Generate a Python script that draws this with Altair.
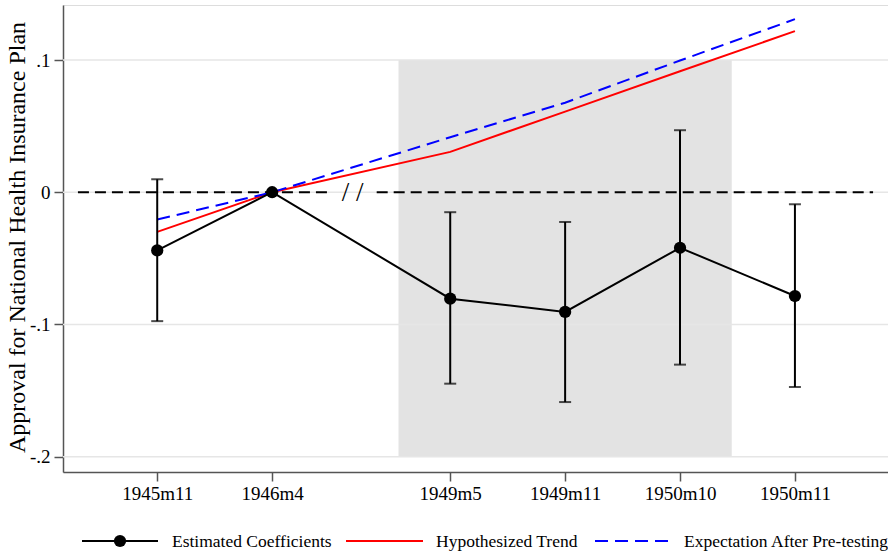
import altair as alt
import pandas as pd

# Survey waves and their positions on the horizontal axis (gap marks the break)
waves = ["1945m11", "1946m4", "1949m5", "1949m11", "1950m10", "1950m11"]
wave_pos = [1.0, 2.0, 3.55, 4.55, 5.55, 6.55]

# Event-study estimates with 95% confidence bounds
coef = [-0.044, 0.0, -0.0805, -0.0905, -0.042, -0.0785]
ci_hi = [0.0098, 0.0, -0.0151, -0.0225, 0.0469, -0.0091]
ci_lo = [-0.0975, 0.0, -0.1448, -0.1587, -0.1304, -0.1473]

# Counterfactual trends
trend = [-0.030, 0.0, 0.0305, 0.061, 0.0915, 0.1218]
expect = [-0.0207, 0.0, 0.0416, 0.0677, 0.0996, 0.1309]

# Y ticks
y_ticks = [0.1, 0.0, -0.1, -0.2]
y_tick_labels = [".1", "0", "-.1", "-.2"]

# Shaded period and zero-line segments around the axis break
shade = {"x0": [3.1], "x1": [6.0], "y0": [-0.2], "y1": [0.1]}
zero_segments = {"x0": [0.31, 2.91], "x1": [2.49, 7.23], "y": [0.0, 0.0]}
break_mark = {"x": [2.70], "y": [0.0], "t": ["/ /"]}

legend_labels = ["Estimated Coefficients", "Hypothesized Trend", "Expectation After Pre-testing"]

FONT = "Liberation Serif"
X_DOMAIN = [0.18, 7.36]
Y_DOMAIN = [-0.2116, 0.1416]

df = pd.DataFrame({
    "wave": waves, "pos": wave_pos, "coef": coef,
    "hi": ci_hi, "lo": ci_lo, "trend": trend, "expect": expect,
})
df_ci = df[df["hi"] != df["lo"]]


def label_expr(values, labels):
    parts = [f"abs(datum.value - ({v})) < 1e-6 ? '{l}'" for v, l in zip(values, labels)]
    return " : ".join(parts) + " : ''"


xs = alt.Scale(domain=X_DOMAIN, nice=False, zero=False)
ys = alt.Scale(domain=Y_DOMAIN, nice=False, zero=False)

x_axis = alt.Axis(
    values=wave_pos, labelExpr=label_expr(wave_pos, waves), title=None,
    grid=False, tickSize=9, labelPadding=3, labelFontSize=19, labelFont=FONT,
    labelColor="black", domainColor="#555555", tickColor="#555555",
    domainWidth=1.5, tickWidth=1.5, labelBaseline="top",
)
y_axis = alt.Axis(
    values=y_ticks, labelExpr=label_expr(y_ticks, y_tick_labels),
    title="Approval for National Health Insurance Plan",
    grid=False, tickSize=9, labelPadding=4, labelFontSize=19, labelFont=FONT,
    labelColor="black", domainColor="#555555", tickColor="#555555",
    domainWidth=1.5, tickWidth=1.5,
    titleFont=FONT, titleFontSize=24, titleFontWeight="normal", titleColor="black",
    titleX=-46, titleY=232, titleAngle=270, titleAlign="center", titleBaseline="middle",
)

base = alt.Chart(df)

shade_layer = alt.Chart(pd.DataFrame(shade)).mark_rect(color="#e3e3e3").encode(
    x=alt.X("x0:Q", scale=xs, axis=x_axis), x2="x1:Q",
    y=alt.Y("y0:Q", scale=ys, axis=y_axis), y2="y1:Q",
)

grid_layer = alt.Chart(pd.DataFrame({"y": y_ticks})).mark_rule(
    color="#e6e6e6", strokeWidth=1.5
).encode(y=alt.Y("y:Q", scale=ys))

zero_layer = alt.Chart(pd.DataFrame(zero_segments)).mark_rule(
    color="black", strokeWidth=2, strokeDash=[11, 6]
).encode(x=alt.X("x0:Q", scale=xs), x2="x1:Q", y=alt.Y("y:Q", scale=ys))

break_layer = alt.Chart(pd.DataFrame(break_mark)).mark_text(
    font=FONT, fontSize=27, color="black", baseline="middle", align="center", dy=1
).encode(x=alt.X("x:Q", scale=xs), y=alt.Y("y:Q", scale=ys), text="t:N")

trend_layer = base.mark_line(color="#ff0000", strokeWidth=2).encode(
    x=alt.X("pos:Q", scale=xs), y=alt.Y("trend:Q", scale=ys)
)
expect_layer = base.mark_line(color="#0000ff", strokeWidth=2, strokeDash=[13, 7]).encode(
    x=alt.X("pos:Q", scale=xs), y=alt.Y("expect:Q", scale=ys)
)

ci_layer = alt.Chart(df_ci).mark_rule(color="black", strokeWidth=2).encode(
    x=alt.X("pos:Q", scale=xs), y=alt.Y("lo:Q", scale=ys), y2="hi:Q"
)
cap_hi = alt.Chart(df_ci).mark_tick(color="black", orient="horizontal", size=12, thickness=2).encode(
    x=alt.X("pos:Q", scale=xs), y=alt.Y("hi:Q", scale=ys)
)
cap_lo = alt.Chart(df_ci).mark_tick(color="black", orient="horizontal", size=12, thickness=2).encode(
    x=alt.X("pos:Q", scale=xs), y=alt.Y("lo:Q", scale=ys)
)

coef_line = base.mark_line(color="black", strokeWidth=2).encode(
    x=alt.X("pos:Q", scale=xs), y=alt.Y("coef:Q", scale=ys)
)
coef_pts = base.mark_point(filled=True, color="black", size=150, opacity=1).encode(
    x=alt.X("pos:Q", scale=xs), y=alt.Y("coef:Q", scale=ys)
)

# Legend row beneath the axis (pixel offsets relative to the plot area)
LEG_Y = 536
one = pd.DataFrame({"k": [0]})
leg_black = alt.Chart(one).mark_rule(color="black", strokeWidth=2).encode(
    x=alt.value(19), x2=alt.value(95), y=alt.value(LEG_Y)
)
leg_dot = alt.Chart(one).mark_point(filled=True, color="black", size=150, opacity=1).encode(
    x=alt.value(57), y=alt.value(LEG_Y)
)
leg_red = alt.Chart(one).mark_rule(color="#ff0000", strokeWidth=2).encode(
    x=alt.value(283), x2=alt.value(360), y=alt.value(LEG_Y)
)
leg_blue = alt.Chart(one).mark_rule(color="#0000ff", strokeWidth=2, strokeDash=[13, 7]).encode(
    x=alt.value(532), x2=alt.value(607), y=alt.value(LEG_Y)
)
leg_text_layers = [
    alt.Chart(pd.DataFrame({"t": [lab]})).mark_text(
        font=FONT, fontSize=17.5, color="black", align="left", baseline="middle"
    ).encode(x=alt.value(xp), y=alt.value(LEG_Y + 1), text="t:N")
    for lab, xp in zip(legend_labels, [109, 373, 621])
]

chart = alt.layer(
    shade_layer, grid_layer, zero_layer, break_layer,
    trend_layer, expect_layer, ci_layer, cap_hi, cap_lo, coef_line, coef_pts,
    leg_black, leg_dot, leg_red, leg_blue, *leg_text_layers,
).properties(
    width=825, height=467,
    autosize=alt.AutoSizeParams(type="none"),
    padding={"left": 63, "top": 5, "right": 0, "bottom": 82},
).configure_view(stroke=None).configure(background="white")

chart.save("out.html", embed_options={"renderer": "svg", "actions": False})
